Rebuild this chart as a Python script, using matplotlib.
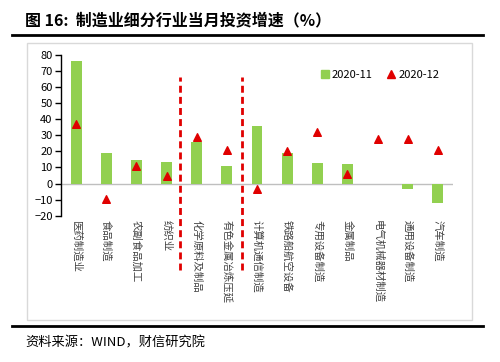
import matplotlib
matplotlib.use("Agg")
import matplotlib.pyplot as plt
from matplotlib.patches import Rectangle
from matplotlib.lines import Line2D

plt.rcParams['font.family'] = ['Noto Sans CJK SC', 'DejaVu Sans']

categories = ['医药制造业', '食品制造', '农副食品加工', '纺织业', '化学原料及制品',
              '有色金属冶炼压延', '计算机通信制造', '铁路船航空设备', '专用设备制造',
              '金属制品', '电气机械器材制造', '通用设备制造', '汽车制造']
nov = [76, 19, 14.5, 13.5, 26, 11, 36, 19, 13, 12.4, -0.5, -3.5, -12.2]
dec = [37, -9.5, 11, 5, 29, 21, -3.5, 20.3, 32.3, 6, 27.6, 27.6, 20.9]
yticks = list(range(-20, 90, 10))
dividers = [3.45, 5.5]

W, H = 500, 362
fig = plt.figure(figsize=(W / 100, H / 100), dpi=100)

# frame decorations (figure pixel coords)
def fx(px):
    return px / W

def fy(py):
    return 1 - py / H

fig.add_artist(Line2D([fx(12), fx(483)], [fy(35), fy(35)], color='black', lw=2))
fig.add_artist(Line2D([fx(12), fx(483)], [fy(326), fy(326)], color='black', lw=2))
fig.add_artist(Rectangle((fx(27), fy(320)), fx(472) - fx(27), fy(43) - fy(320),
                         fill=False, edgecolor='#d9d9d9', lw=1))

fig.text(fx(25), fy(20), '图 16:  制造业细分行业当月投资增速（%）', fontsize=11.5,
         fontweight='bold', va='center', ha='left')
fig.text(fx(25), fy(343), '资料来源：WIND，财信研究院', fontsize=9.5, style='italic',
         va='center', ha='left')

ax = fig.add_axes([fx(61), fy(215.7), fx(453) - fx(61), fy(55) - fy(215.7)])
x = list(range(len(categories)))
ax.bar(x, nov, width=0.36, color='#92D050', label='2020-11', zorder=2)
ax.scatter(x, dec, marker='^', s=30, color='#E00000', label='2020-12', zorder=3)
ax.axhline(0, color='#BFBFBF', lw=1, zorder=1)

for d in dividers:
    ax.plot([d, d], [-54, 66], color='#E00000', lw=2, ls=(0, (2.5, 1.5)),
            clip_on=False, zorder=4)

ax.set_xlim(-0.5, 12.5)
ax.set_ylim(-20, 80)
ax.set_yticks(yticks)
ax.tick_params(axis='y', labelsize=8, length=4, width=1, direction='out', pad=2)
ax.set_xticks([])
for s in ['top', 'right', 'bottom']:
    ax.spines[s].set_visible(False)
ax.spines['left'].set_linewidth(1)

for i, c in enumerate(categories):
    ax.text(i, -22.5, c, rotation=-90, ha='center', va='top', fontsize=7.5,
            color='#404040')

handles = [Line2D([], [], marker='s', ls='', color='#92D050', markersize=6),
           Line2D([], [], marker='^', ls='', color='#E00000', markersize=6)]
ax.legend(handles, ['2020-11', '2020-12'], loc='upper right', ncol=2, frameon=False,
          fontsize=8, bbox_to_anchor=(0.99, 0.97), handletextpad=0.1,
          columnspacing=1.2, handlelength=1)

fig.savefig('out.png', dpi=100)
